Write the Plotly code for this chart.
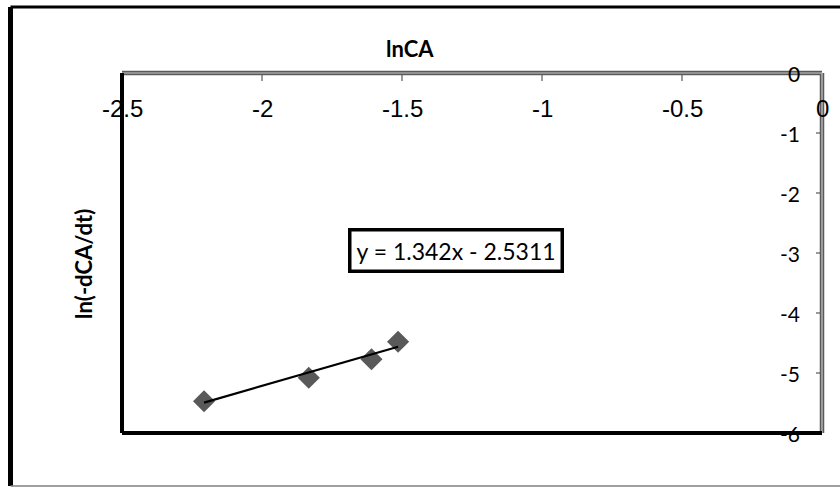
import plotly.graph_objects as go

# Rate data: ln(CA) against ln(-dCA/dt)
ln_ca = [-2.207, -1.833, -1.609, -1.514]
ln_rate = [-5.47, -5.08, -4.77, -4.48]

# Linear trendline coefficients
slope = 1.342
intercept = -2.5311

x_ticks = [-2.5, -2, -1.5, -1, -0.5, 0]
y_ticks = [0, -1, -2, -3, -4, -5, -6]

x_range = [-2.5, 0]
y_range = [-6, 0]

fit_x = [min(ln_ca), max(ln_ca)]
fit_y = [slope * v + intercept for v in fit_x]

fig = go.Figure()

fig.add_trace(go.Scatter(
    x=ln_ca, y=ln_rate, mode="markers",
    marker=dict(symbol="diamond", size=17, color="#595959"),
    showlegend=False, hoverinfo="skip",
))
fig.add_trace(go.Scatter(
    x=fit_x, y=fit_y, mode="lines",
    line=dict(color="black", width=2.2),
    showlegend=False, hoverinfo="skip",
))

fig.update_layout(
    width=840, height=488,
    margin=dict(l=122, r=18, t=73, b=55),
    paper_bgcolor="white", plot_bgcolor="white",
    xaxis=dict(
        range=x_range, side="top", showgrid=False, zeroline=False,
        tickvals=x_ticks, showticklabels=False,
        ticks="inside", ticklen=8, tickcolor="#9a9a9a", tickwidth=2,
        showline=False,
    ),
    yaxis=dict(
        range=y_range, side="right", showgrid=False, zeroline=False,
        tickvals=y_ticks, showticklabels=False,
        ticks="inside", ticklen=6, tickcolor="#9a9a9a", tickwidth=2,
        showline=False,
    ),
)

shapes = []
# top and right axis lines (grey, doubled look)
for col, w in (("#5a5a5a", 4.5), ("#c8c8c8", 1.2)):
    shapes.append(dict(type="line", xref="paper", yref="paper",
                       x0=0, x1=1, y0=1, y1=1, line=dict(color=col, width=w)))
    shapes.append(dict(type="line", xref="paper", yref="paper",
                       x0=1, x1=1, y0=0, y1=1, line=dict(color=col, width=w)))
# left and bottom plot borders (black)
shapes.append(dict(type="line", xref="paper", yref="paper",
                   x0=0, x1=0, y0=0, y1=1, line=dict(color="black", width=4)))
shapes.append(dict(type="line", xref="paper", yref="paper",
                   x0=0, x1=1, y0=0, y1=0, line=dict(color="black", width=4)))
# chart frame
fr_x0 = (10.5 - 122) / 700.0
fr_y1 = 1 + (73 - 7) / 360.0
fr_y0 = -(486 - 433) / 360.0
shapes.append(dict(type="line", xref="paper", yref="paper",
                   x0=fr_x0, x1=fr_x0, y0=fr_y0, y1=fr_y1,
                   line=dict(color="black", width=5)))
shapes.append(dict(type="line", xref="paper", yref="paper",
                   x0=fr_x0, x1=1.05, y0=fr_y1, y1=fr_y1,
                   line=dict(color="black", width=3)))
shapes.append(dict(type="line", xref="paper", yref="paper",
                   x0=fr_x0, x1=1.05, y0=fr_y0, y1=fr_y0,
                   line=dict(color="#808080", width=1.5)))
fig.update_layout(shapes=shapes)

annotations = []
for v in x_ticks:
    annotations.append(dict(
        x=v, y=1, xref="x", yref="paper", text=f"{v:g}", showarrow=False,
        xanchor="center", yanchor="middle", yshift=-35,
        font=dict(family="Liberation Sans", size=24, color="black"),
    ))
for v in y_ticks:
    annotations.append(dict(
        x=1, y=v, xref="paper", yref="y", text=f"{v:g}", showarrow=False,
        xanchor="right", yanchor="middle", xshift=-20,
        font=dict(family="Lato", size=21, color="black"),
    ))
annotations.append(dict(
    x=(410 - 122) / 700.0, y=1, xref="paper", yref="paper", text="<b>lnCA</b>",
    showarrow=False, xanchor="center", yanchor="middle", yshift=25,
    font=dict(family="Lato", size=22, color="black"),
))
annotations.append(dict(
    x=(83 - 122) / 700.0, y=(433 - 264) / 360.0, xref="paper", yref="paper",
    text="<b>ln(-dCA/dt)</b>", textangle=-90, showarrow=False,
    xanchor="center", yanchor="middle",
    font=dict(family="Lato", size=22, color="black"),
))
annotations.append(dict(
    x=(456 - 122) / 700.0, y=(433 - 250) / 360.0, xref="paper", yref="paper",
    text=f"y = {slope:g}x - {abs(intercept):g}", showarrow=False,
    xanchor="center", yanchor="middle",
    bordercolor="black", borderwidth=3.5, borderpad=5, bgcolor="white",
    font=dict(family="Lato", size=23, color="black"),
))
fig.update_layout(annotations=annotations)

fig.write_html("out.html")
